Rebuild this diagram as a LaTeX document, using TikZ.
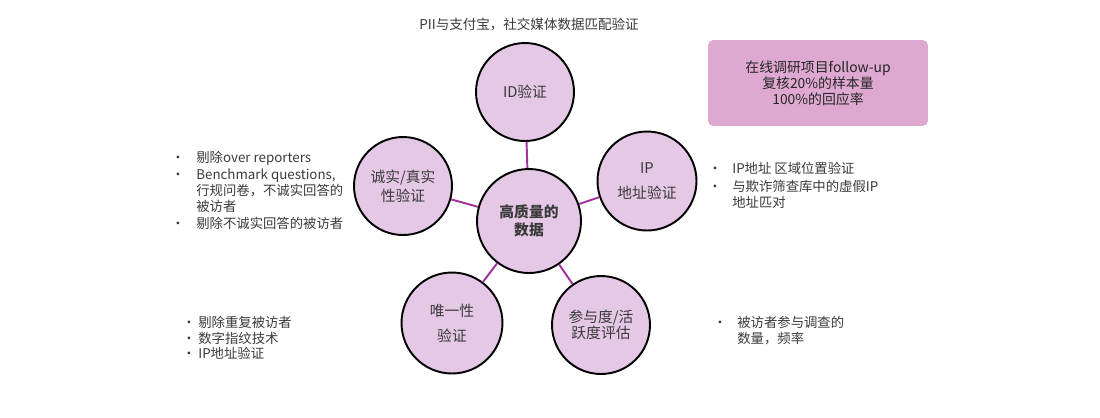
\documentclass[tikz,border=0pt]{standalone}
\usepackage{fontspec}
\setmainfont{Noto Sans CJK SC}
\definecolor{circfill}{HTML}{E5C8E5}
\definecolor{boxfill}{HTML}{DFA8D1}
\definecolor{linkcol}{HTML}{A2329B}
\definecolor{txt}{HTML}{3A3A3A}
\tikzset{
  bub/.style={circle, draw=black, line width=1.1pt, fill=circfill, inner sep=0pt, align=center, text=txt},
  link/.style={draw=linkcol, line width=1.1pt},
  bodytxt/.style={anchor=base west, inner sep=0pt, text=txt, font=\fontsize{7.6}{9}\selectfont},
  bul/.style={anchor=base, inner sep=0pt, text=txt, font=\fontsize{7.6}{9}\selectfont},
}
\begin{document}
\begin{tikzpicture}[x=0.02cm,y=-0.02cm]
\useasboundingbox (0,0) rectangle (1100,417);
% circles
\node[bub, minimum size=0.2cm*10.4, font=\fontsize{8.4}{10.2}\selectfont\bfseries] (core) at (529,221) {高质量的\\数据};
\node[bub, minimum size=0.2cm*9.8, font=\fontsize{8.4}{10}\selectfont] (id) at (525,92) {ID验证};
\node[bub, minimum size=0.2cm*9.8, font=\fontsize{8.4}{10.8}\selectfont] (hon) at (403,186) {诚实/真实\\性验证};
\node[bub, minimum size=0.2cm*9.9, font=\fontsize{8.4}{14.2}\selectfont] (ip) at (647,181) {IP\\地址验证};
\node[bub, minimum size=0.2cm*10.1, font=\fontsize{8.4}{14.2}\selectfont] (uni) at (452,323) {唯一性\\验证};
\node[bub, minimum size=0.2cm*9.8, font=\fontsize{8.4}{9.2}\selectfont] (eng) at (601,325) {参与度/活\\跃度评估};
% connectors
\draw[link] (core) -- (id);
\draw[link] (core) -- (hon);
\draw[link] (core) -- (ip);
\draw[link] (core) -- (uni);
\draw[link] (core) -- (eng);
% top label
\node[anchor=base, inner sep=0pt, text=txt, font=\fontsize{7.7}{9}\selectfont] (top) at (529,29) {PII与支付宝，社交媒体数据匹配验证};
% box
\node[draw=none, fill=boxfill, rounded corners=3pt, minimum width=0.2cm*22, minimum height=0.2cm*8.6, inner sep=0pt, align=center, text=black!85, font=\fontsize{7.9}{9.1}\selectfont] (box) at (818,83) {在线调研项目follow-up\\复核20\%的样本量\\100\%的回应率};
% left bullets
\node[bul] (lb1) at (178,162) {•};
\node[bodytxt] (lt1) at (196,162) {剔除over reporters};
\node[bul] (lb2) at (178,179) {•};
\node[bodytxt] (lt2) at (196,179) {Benchmark questions,};
\node[bodytxt] (lt3) at (196,195) {行规问卷，不诚实回答的};
\node[bodytxt] (lt4) at (196,211) {被访者};
\node[bul] (lb3) at (178,228) {•};
\node[bodytxt] (lt5) at (196,228) {剔除不诚实回答的被访者};
% right bullets
\node[bul] (rb1) at (715,173) {•};
\node[bodytxt] (rt1) at (732,173) {IP地址 区域位置验证};
\node[bul] (rb2) at (715,191) {•};
\node[bodytxt] (rt2) at (732,191) {与欺诈筛查库中的虚假IP};
\node[bodytxt] (rt3) at (732,207) {地址匹对};
% bottom left bullets
\node[bul] (bb1) at (189,327) {•};
\node[bodytxt] (bt1) at (198,327) {剔除重复被访者};
\node[bul] (bb2) at (189,343) {•};
\node[bodytxt] (bt2) at (198,343) {数字指纹技术};
\node[bul] (bb3) at (189,358) {•};
\node[bodytxt] (bt3) at (198,358) {IP地址验证};
% bottom right bullets
\node[bul] (db1) at (720,327) {•};
\node[bodytxt] (dt1) at (737,327) {被访者参与调查的};
\node[bodytxt] (dt2) at (737,343) {数量，频率};
\end{tikzpicture}
\end{document}
